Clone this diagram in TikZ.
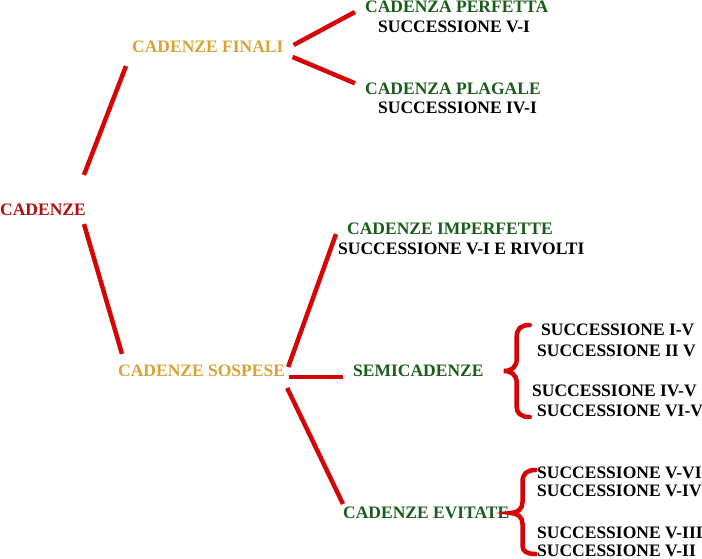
\documentclass[tikz,border=0pt]{standalone}
\usepackage{fontspec}
\setmainfont{Liberation Serif}
\definecolor{rootred}{RGB}{176,12,12}
\definecolor{gold}{RGB}{216,162,52}
\definecolor{darkgreen}{RGB}{26,92,26}
\definecolor{linered}{RGB}{214,4,4}
\begin{document}
\begin{tikzpicture}[x=1pt,y=-1pt,
    every node/.style={inner sep=0pt,anchor=west,font=\fontsize{17.5}{20}\selectfont\bfseries},
    link/.style={line width=4.5pt,draw=linered},
    brace/.style={line width=4.5pt,draw=linered,line cap=round}]
        \useasboundingbox (0,0) rectangle (702,559);
        \node[text=rootred] (cad) at (0,209.5) {CADENZE};
        \node[text=gold] (fin) at (132,46.5) {CADENZE FINALI};
        \node[text=gold] (sos) at (118,371) {CADENZE SOSPESE};
        \node[text=darkgreen] (perf) at (365,7) {CADENZA PERFETTA};
        \node (perfs) at (378,27) {SUCCESSIONE V-I};
        \node[text=darkgreen] (plag) at (365,88.3) {CADENZA PLAGALE};
        \node (plags) at (378,108) {SUCCESSIONE IV-I};
        \node[text=darkgreen] (imp) at (347,229) {CADENZE IMPERFETTE};
        \node (imps) at (338,249) {SUCCESSIONE V-I E RIVOLTI};
        \node[text=darkgreen] (semi) at (353,371) {SEMICADENZE};
        \node (semi1) at (541,330) {SUCCESSIONE I-V};
        \node (semi2) at (537,350.5) {SUCCESSIONE II V};
        \node (semi3) at (532,391) {SUCCESSIONE IV-V};
        \node (semi4) at (537,410.5) {SUCCESSIONE VI-V};
        \node[text=darkgreen] (evit) at (343,513) {CADENZE EVITATE};
        \node (evit1) at (537,472.5) {SUCCESSIONE V-VI};
        \node (evit2) at (537,491) {SUCCESSIONE V-IV};
        \node (evit3) at (537,533) {SUCCESSIONE V-III};
        \node (evit4) at (537,550.5) {SUCCESSIONE V-II};
        \draw [link] ([xshift=-2pt,yshift=28.5pt]cad.north east) -- ([xshift=-6pt,yshift=-13.5pt]fin.south west);
        \draw [link] ([xshift=-2pt,yshift=-8.5pt]cad.south east) -- ([xshift=4pt,yshift=11pt]sos.north west);
        \draw [link] ([xshift=10pt,yshift=1.5pt]fin.east) -- ([xshift=-10pt,yshift=-5pt]perf.west);
        \draw [link] ([xshift=9pt,yshift=-10.5pt]fin.east) -- ([xshift=-10pt,yshift=5pt]plag.west);
        \draw [link] ([xshift=3pt,yshift=4pt]sos.east) -- ([xshift=-11pt,yshift=1pt]imp.south west);
        \draw [link] ([xshift=4pt,yshift=-6pt]sos.east) -- ([xshift=-10pt,yshift=-6pt]semi.west);
        \draw [link] ([xshift=2pt,yshift=-17pt]sos.east) -- ([xshift=0pt,yshift=9pt]evit.west);
        \begin{scope}[shift={(semi.east)},xshift=20pt]
            \draw [brace] (26,-46) .. controls (17,-46) and (13,-42) .. (13,-34) -- (13,-12)
                .. controls (13,-4) and (8,0) .. (0,0) .. controls (8,0) and (13,4) .. (13,12)
                -- (13,36) .. controls (13,42) and (17,46) .. (26,46);
        \end{scope}
        \begin{scope}[shift={(evit.east)},xshift=1pt]
            \draw [brace] (25,-43) .. controls (16,-43) and (12,-39) .. (12,-31) -- (12,-11)
                .. controls (12,-4) and (7,0) .. (0,0) .. controls (7,0) and (12,4) .. (12,11)
                -- (12,33) .. controls (12,38) and (16,41) .. (25,41);
        \end{scope}
\end{tikzpicture}
\end{document}
